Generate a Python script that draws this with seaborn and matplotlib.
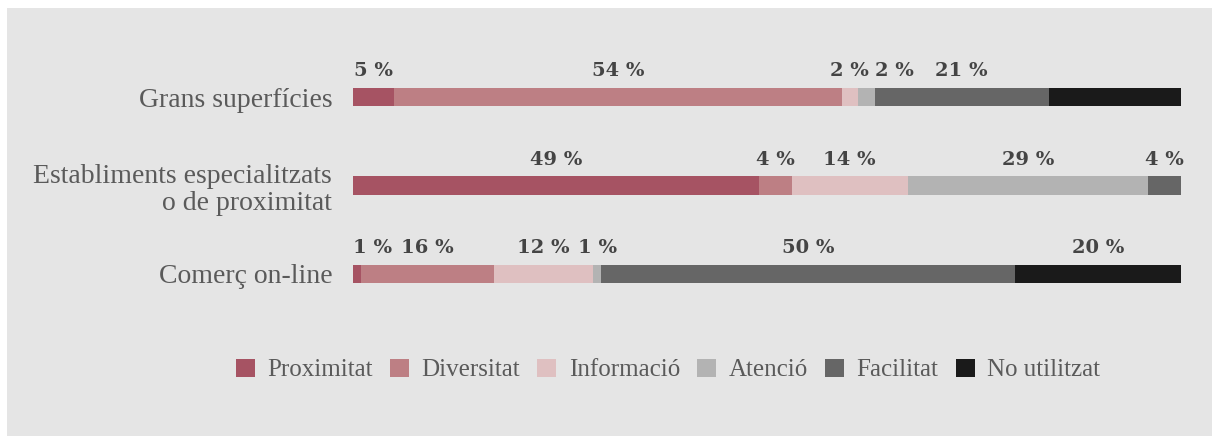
import numpy as np
import pandas as pd
import matplotlib
matplotlib.use("Agg")
import matplotlib.pyplot as plt
from matplotlib.patches import Patch
import seaborn as sns

# Shopping channels and the reasons people give for choosing them (%)
categories = ["Grans superfícies",
              "Establiments especialitzats\no de proximitat",
              "Comerç on-line"]
series = ["Proximitat", "Diversitat", "Informació", "Atenció", "Facilitat", "No utilitzat"]
proximitat = [5, 49, 1]
diversitat = [54, 4, 16]
informacio = [2, 14, 12]
atencio = [2, 29, 1]
facilitat = [21, 4, 50]
no_utilitzat = [16, 0, 20]
# which values get a printed label (the 16 % on the first bar is not printed)
show_label = [
    [True, True, True, True, True, False],
    [True, True, True, True, True, False],
    [True, True, True, True, True, True],
]
colors = ["#a65363", "#bd7f84", "#dfc0c1", "#b3b3b3", "#666666", "#1a1a1a"]

values = np.array([proximitat, diversitat, informacio, atencio, facilitat, no_utilitzat], dtype=float)
cum = np.cumsum(values, axis=0)

df = pd.DataFrame({"categoria": categories})
for name, row in zip(series, cum):
    df[name] = row

BG = "#e5e5e5"
sns.set_theme(style="white")
plt.rcParams["font.family"] = ["DejaVu Sans"]

fig = plt.figure(figsize=(12.12, 4.36), dpi=100, facecolor="white")
# grey panel behind the chart
fig.patches.append(plt.Rectangle((7 / 1212, 0), 1, 1 - 8 / 436, transform=fig.transFigure,
                                 facecolor=BG, edgecolor="none", zorder=-5))
ax = fig.add_axes([353 / 1212, 0.25, (1181 - 353) / 1212, 0.649])
ax.set_facecolor("none")

# stacked bars: draw cumulative totals from the last series to the first
for name, col in reversed(list(zip(series, colors))):
    sns.barplot(data=df, x=name, y="categoria", orient="h", color=col,
                width=0.205, saturation=1, ax=ax, linewidth=0)

ax.set_xlim(0, 100)
ax.set_ylim(2.6, -0.6)
ax.set_xlabel("")
ax.set_ylabel("")
ax.set_xticks([])
for s in ax.spines.values():
    s.set_visible(False)
ax.tick_params(axis="y", length=0, pad=15)
for lbl in ax.get_yticklabels():
    lbl.set_fontfamily("Liberation Serif")
    lbl.set_fontsize(20)
    lbl.set_linespacing(1.12)
    lbl.set_color("#5a5a5a")

# value labels above each segment, nudged right when they would collide
fig.canvas.draw()
renderer = fig.canvas.get_renderer()
for i in range(len(categories)):
    prev_right = -np.inf
    starts = cum[:, i] - values[:, i]
    for k in range(len(series)):
        if not show_label[i][k]:
            continue
        center = starts[k] + values[k, i] / 2
        t = ax.text(center, i - 0.19, f"{values[k, i]:.0f} %", ha="center", va="bottom",
                    fontsize=14, fontweight="bold", family="DejaVu Serif", color="#444444")
        bb = t.get_window_extent(renderer)
        x_left_px = ax.transData.transform((0, 0))[0]
        shift = 0.0
        if bb.x0 < x_left_px:
            shift = x_left_px - bb.x0
        if bb.x0 + shift < prev_right + 6:
            shift = prev_right + 6 - bb.x0
        if shift:
            disp = ax.transData.transform((center, i - 0.19))
            new = ax.transData.inverted().transform((disp[0] + shift, disp[1]))
            t.set_x(new[0])
        prev_right = bb.x1 + shift

handles = [Patch(facecolor=c, edgecolor="none") for c in colors]
leg = fig.legend(handles, series, loc="center", bbox_to_anchor=(668 / 1212, 1 - 370 / 436),
                 ncol=6, frameon=False, handlelength=0.75, handleheight=0.75,
                 handletextpad=0.5, columnspacing=0.7,
                 prop={"family": "Liberation Serif", "size": 18})
for txt in leg.get_texts():
    txt.set_color("#5a5a5a")

fig.savefig("out.png", dpi=100, facecolor="white")
